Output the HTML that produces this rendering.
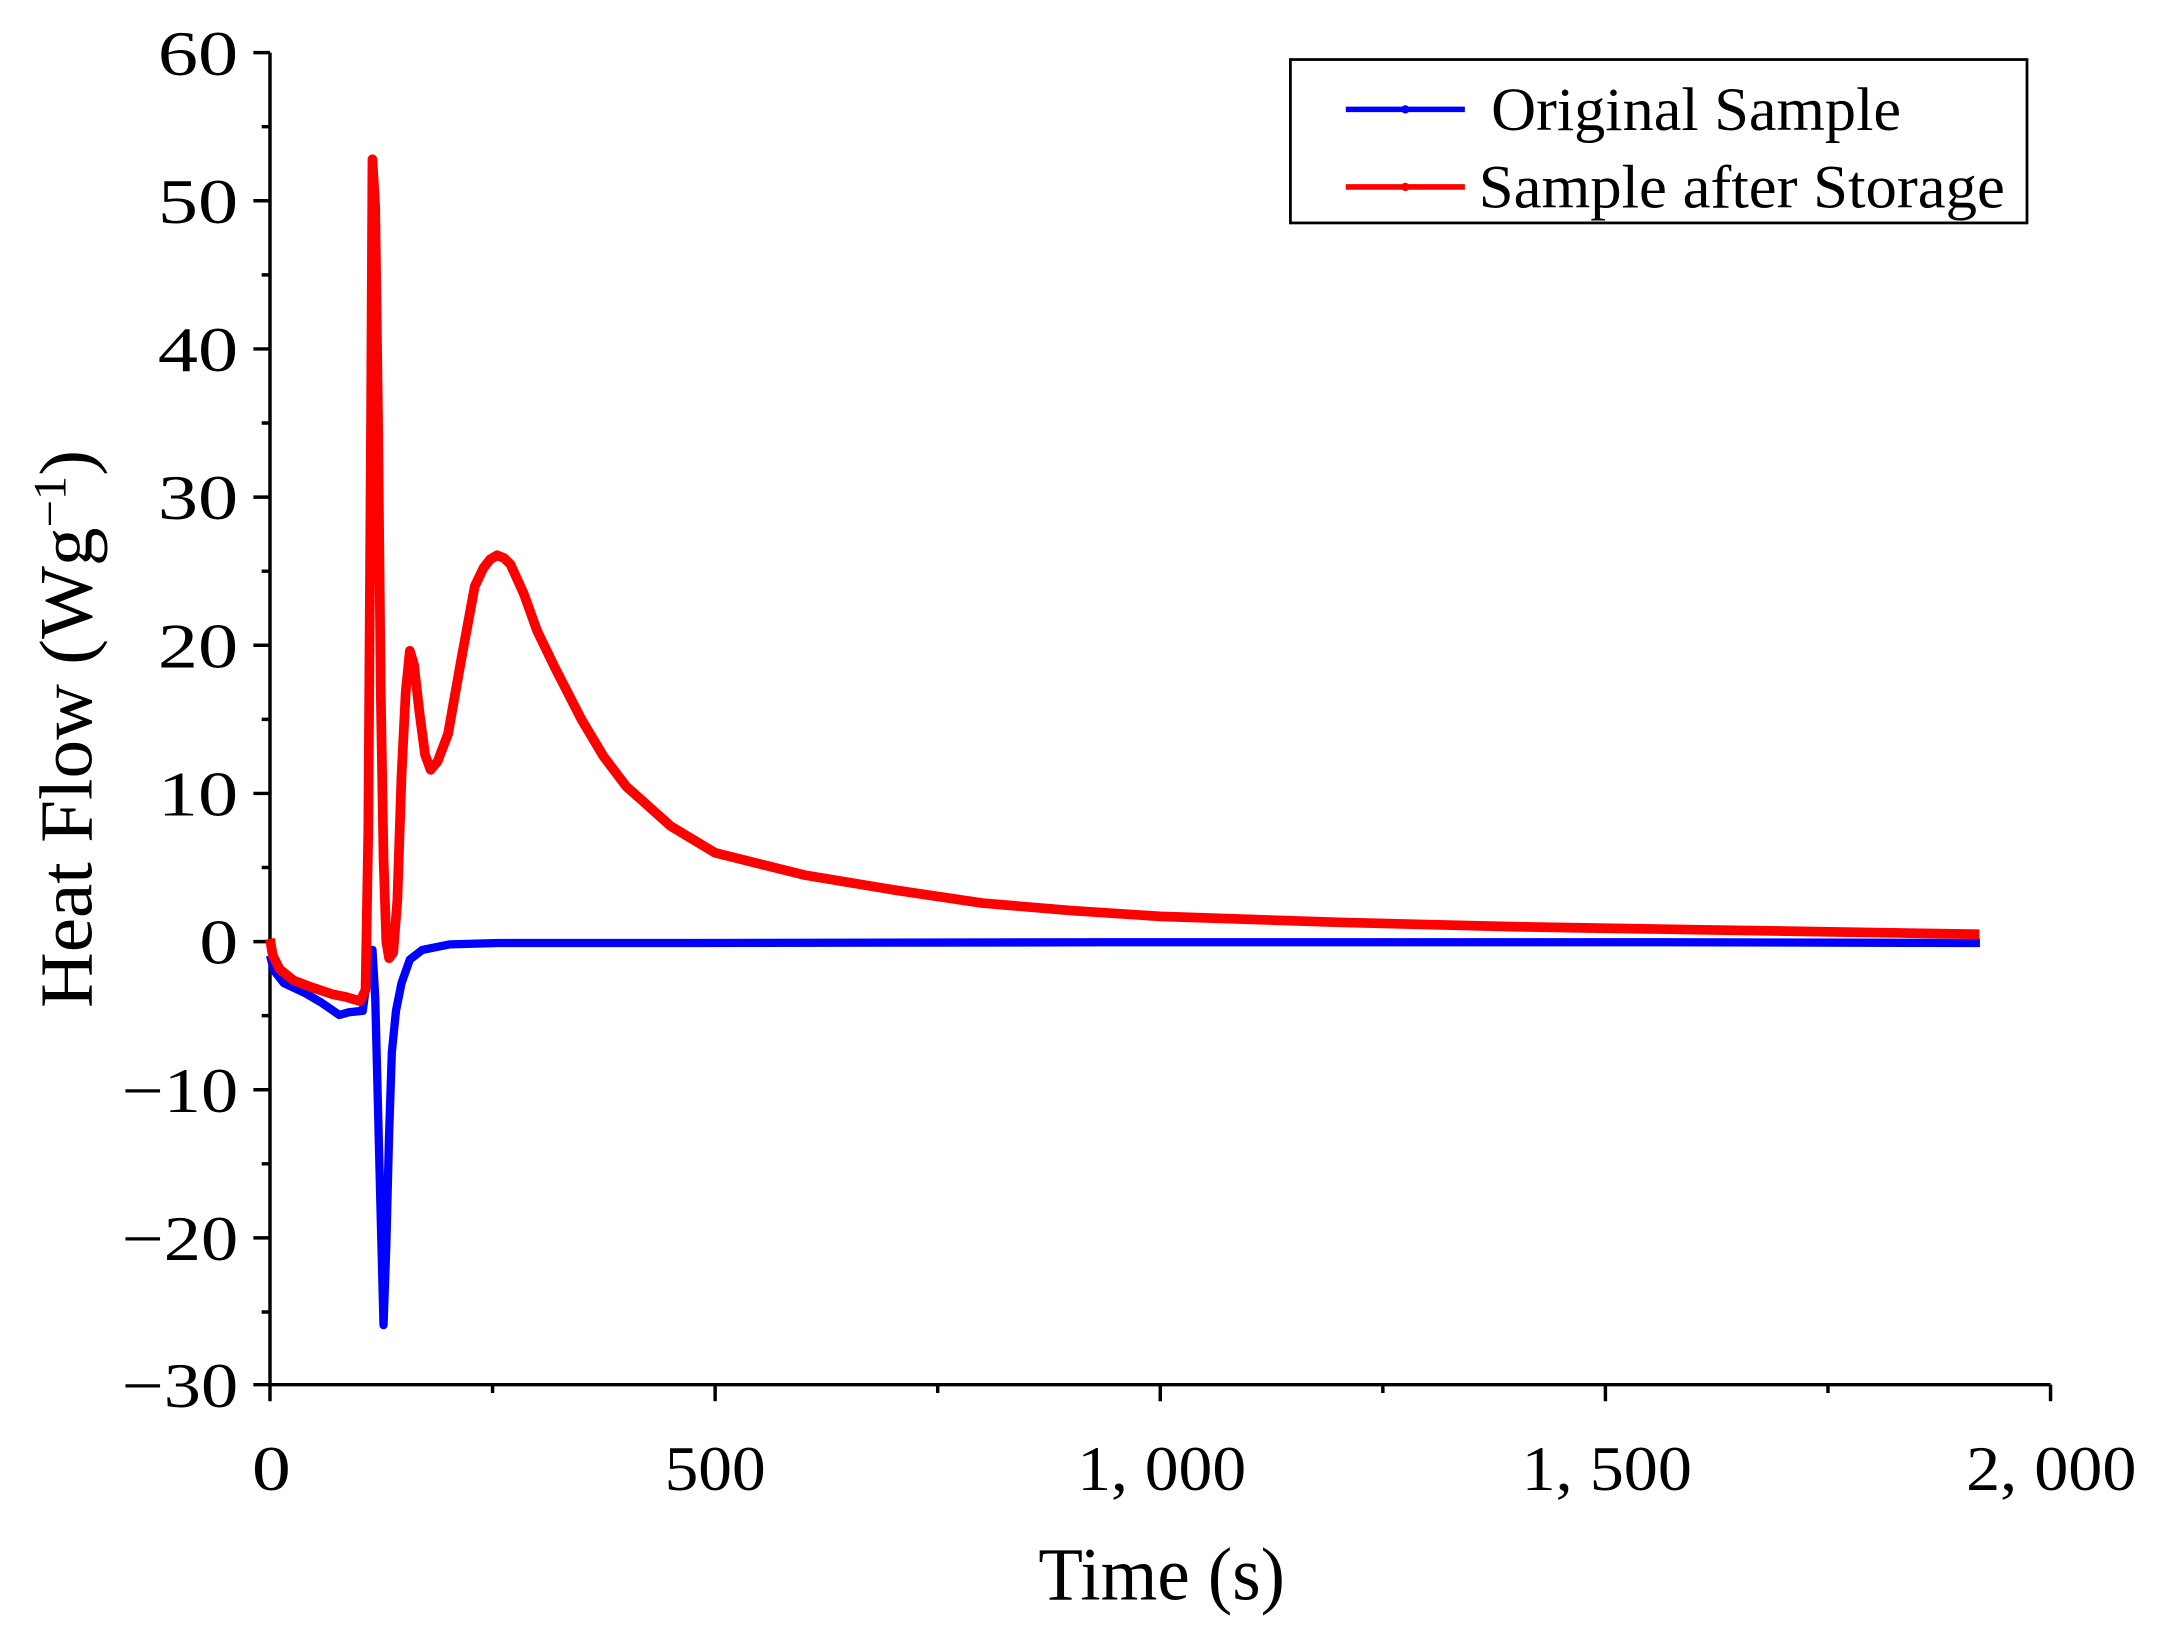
<!DOCTYPE html>
<html><head><meta charset="utf-8"><style>
html,body{margin:0;padding:0;background:#fff;}
svg{display:block;}
text{font-family:"Liberation Serif",serif;fill:#000;}
</style></head><body>
<svg width="2171" height="1636" viewBox="0 0 1568 1181.5" preserveAspectRatio="none" xmlns="http://www.w3.org/2000/svg">
<rect width="1568" height="1182" fill="#fff"/>
<g stroke="#000" stroke-width="2.5" fill="none">
<line x1="195" y1="38" x2="195" y2="1000"/>
<line x1="195" y1="1000" x2="1481" y2="1000"/>
<path d="M183 38H195M183 145H195M183 252H195M183 359H195M183 466H195M183 573H195M183 680H195M183 787H195M183 894H195M183 1000H195"/>
<path d="M189 91.5H195M189 198.5H195M189 305.5H195M189 412.5H195M189 519.5H195M189 626.5H195M189 733.5H195M189 840.5H195M189 947.5H195"/>
<path d="M195 1000V1012M516.5 1000V1012M838 1000V1012M1159.5 1000V1012M1481 1000V1012"/>
<path d="M355.75 1000V1006M677.25 1000V1006M998.75 1000V1006M1320.25 1000V1006"/>
</g>
<g font-size="46" text-anchor="end">
<text x="172" y="54" textLength="58" lengthAdjust="spacingAndGlyphs">60</text>
<text x="172" y="161" textLength="58" lengthAdjust="spacingAndGlyphs">50</text>
<text x="172" y="268" textLength="58" lengthAdjust="spacingAndGlyphs">40</text>
<text x="172" y="375" textLength="58" lengthAdjust="spacingAndGlyphs">30</text>
<text x="172" y="482" textLength="58" lengthAdjust="spacingAndGlyphs">20</text>
<text x="172" y="589" textLength="58" lengthAdjust="spacingAndGlyphs">10</text>
<text x="172" y="696" textLength="28" lengthAdjust="spacingAndGlyphs">0</text>
<text x="172" y="803" textLength="84" lengthAdjust="spacingAndGlyphs">−10</text>
<text x="172" y="910" textLength="84" lengthAdjust="spacingAndGlyphs">−20</text>
<text x="172" y="1016" textLength="84" lengthAdjust="spacingAndGlyphs">−30</text>
</g>
<g font-size="46">
<text x="182" y="1076" textLength="28" lengthAdjust="spacingAndGlyphs">0</text>
<text x="480" y="1076" textLength="73" lengthAdjust="spacingAndGlyphs">500</text>
<text x="778" y="1076" textLength="122" lengthAdjust="spacingAndGlyphs">1, 000</text>
<text x="1099" y="1076" textLength="123" lengthAdjust="spacingAndGlyphs">1, 500</text>
<text x="1420" y="1076" textLength="123" lengthAdjust="spacingAndGlyphs">2, 000</text>
</g>
<text x="750" y="1155" font-size="54" textLength="178" lengthAdjust="spacingAndGlyphs">Time (s)</text>
<text transform="translate(66,728) rotate(-90)" font-size="54" textLength="403" lengthAdjust="spacingAndGlyphs">Heat Flow (Wg<tspan baseline-shift="super" font-size="34">−1</tspan>)</text>
<polyline fill="none" stroke="#0000ff" stroke-width="6" stroke-linejoin="round" points="195,690 198,701 205,710 220,717 232,724 245,733 252,731 262,730 266,700 269,686 271,720 273,800 275,880 277,957 279,900 281,820 283,760 286,730 290,710 296,693 305,686 325,682 360,681 500,681 800,680.5 1200,680.5 1430,681"/>
<polyline fill="none" stroke="#ff0000" stroke-width="7" stroke-linejoin="round" points="195,678 197,690 202,700 212,708 225,713 240,718 250,720 260,723 264,715 266,600 268,300 269,115 271,150 273,300 275,500 277,620 279,680 281,692 284,688 287,650 290,560 293,500 296,470 299,480 303,515 307,545 311,556 316,550 323.6,530 333,477 342.9,423.4 349.3,410 354,404 359,401 364,403 368.6,407.4 378.3,428.8 387.9,455.5 400.8,482.2 420,519.6 436,546.4 452.2,567.8 484.4,596.6 516.5,615.9 580.8,631.9 645.1,642.6 709.4,652.2 773.7,657.6 838,661.8 966.6,666.1 1095.2,669.3 1223.8,671.4 1429.6,674.7"/>
<rect x="932" y="43" width="532" height="118" fill="#fff" stroke="#000" stroke-width="2"/>
<line x1="972" y1="79" x2="1058" y2="79" stroke="#0000ff" stroke-width="4"/>
<circle cx="1015" cy="79" r="3" fill="#0000ff"/>
<line x1="972" y1="135" x2="1058" y2="135" stroke="#ff0000" stroke-width="4"/>
<circle cx="1015" cy="135" r="3" fill="#ff0000"/>
<text x="1077" y="94" font-size="44" textLength="296" lengthAdjust="spacingAndGlyphs">Original Sample</text>
<text x="1068" y="150" font-size="44" textLength="380" lengthAdjust="spacingAndGlyphs">Sample after Storage</text>
</svg>
</body></html>
